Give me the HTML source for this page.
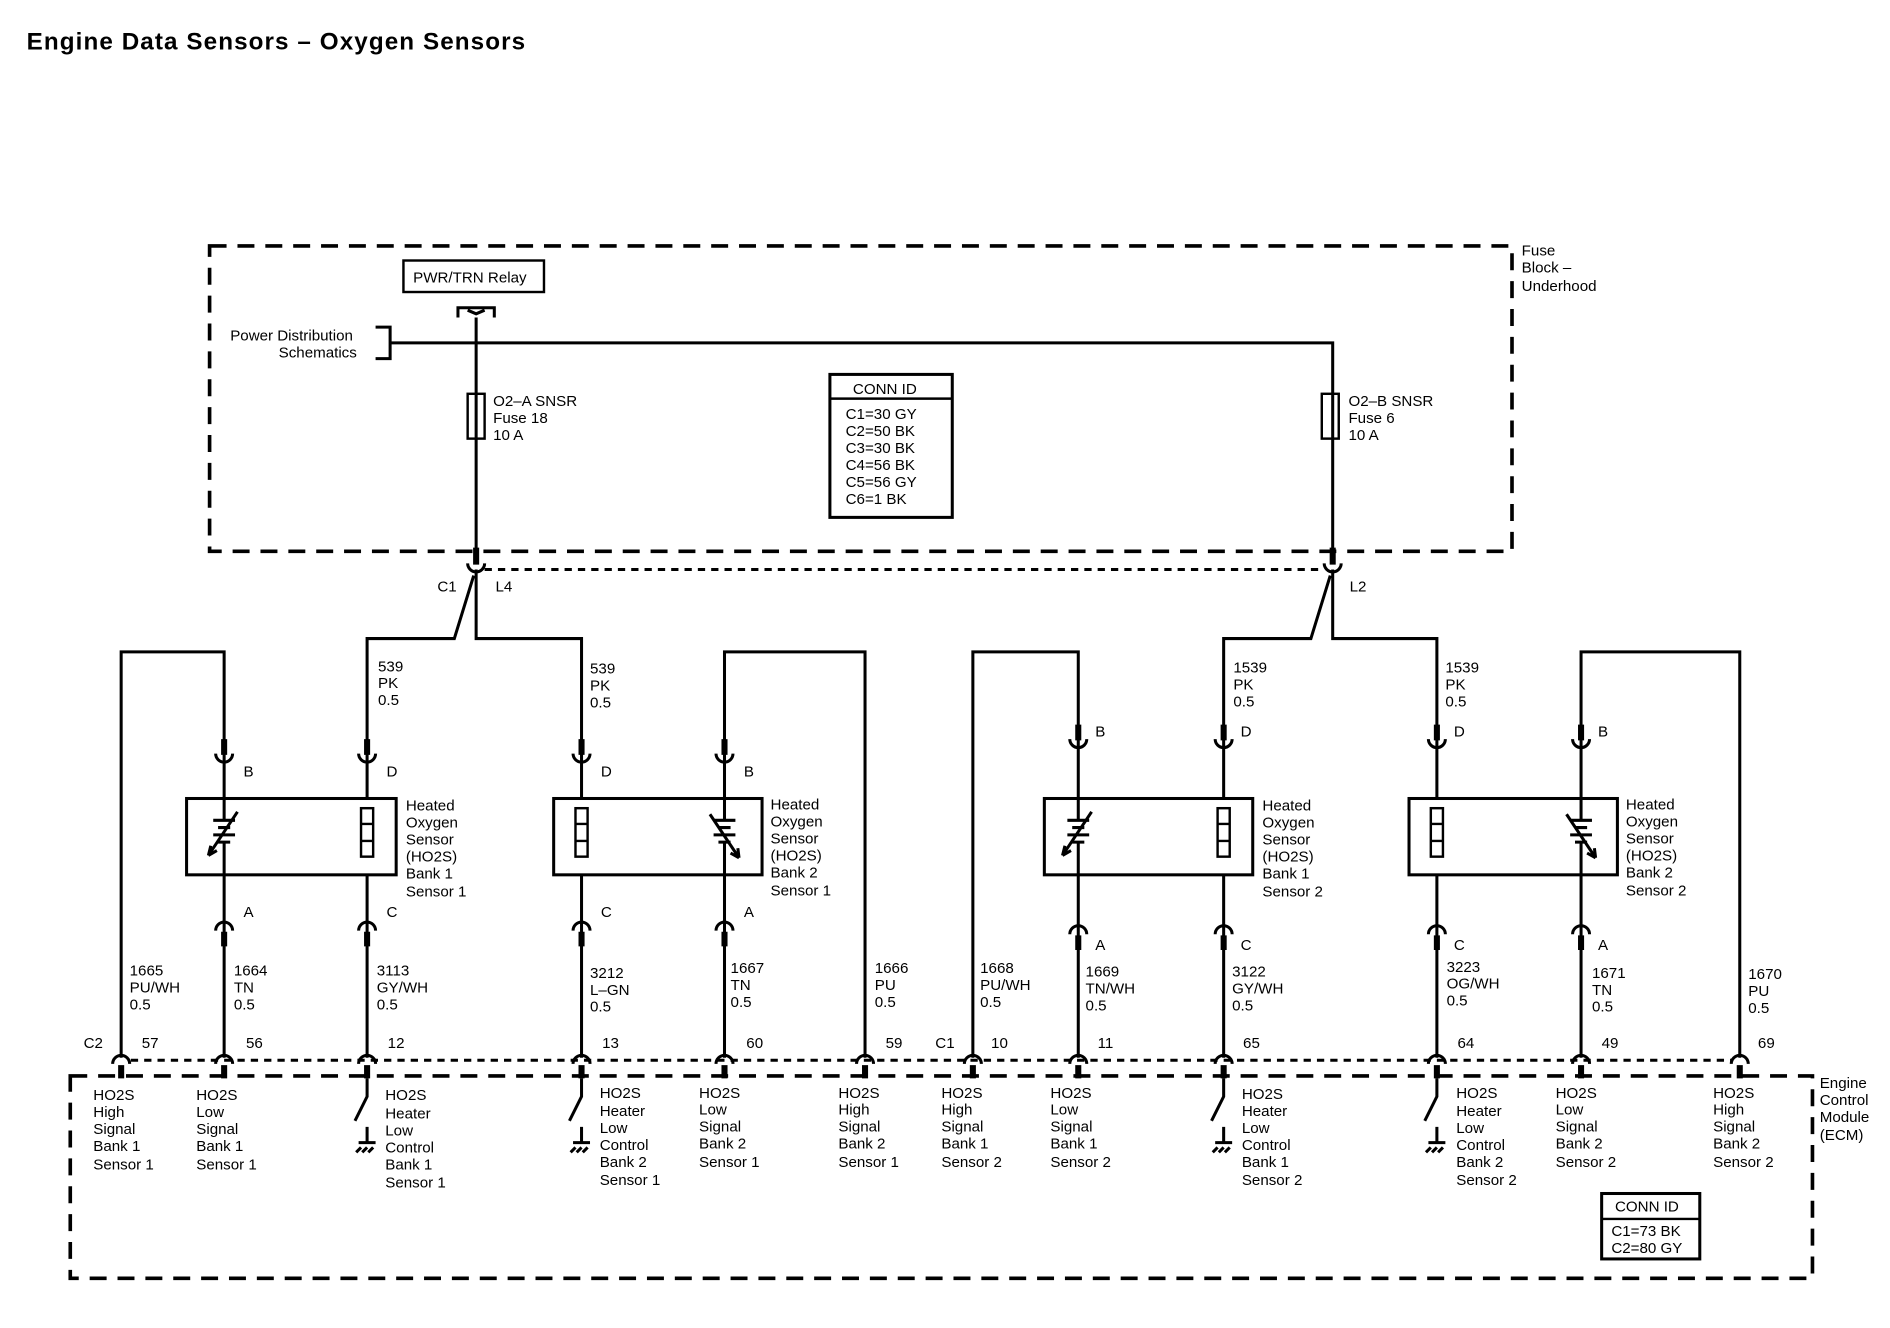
<!DOCTYPE html>
<html><head><meta charset="utf-8"><style>
html,body{margin:0;padding:0;background:#fff;}
svg{display:block;}
text{font-family:"Liberation Sans",Arial,sans-serif;font-size:12.5px;fill:#000;}
</style></head><body>
<svg width="1890" height="1328" viewBox="0 0 1560 1096" preserveAspectRatio="none" xmlns="http://www.w3.org/2000/svg">
<rect width="1560" height="1096" fill="#fff"/>
<text x="22" y="41" style="font-size:20px;font-weight:bold;letter-spacing:0.9px">Engine Data Sensors – Oxygen Sensors</text>
<g fill="none" stroke="#000" stroke-width="3">
<rect x="173" y="203" width="1075" height="252" stroke-dasharray="14,9"/>
<rect x="58" y="888" width="1438" height="167" stroke-dasharray="14,9"/>
</g>
<g fill="none" stroke="#000" stroke-width="2.5">
<rect x="333" y="215" width="116" height="26" stroke-width="2"/>
<path d="M378 262 V254 H408 V262 M386 256 L393 259 L400 256"/>
<path d="M393 262 V465"/>
<path d="M310 270 H322 V296 H310 M322 283 H1100 V465"/>
<rect x="386" y="325" width="14" height="37" stroke-width="2"/>
<rect x="1091" y="325" width="14" height="37" stroke-width="2"/>
<rect x="685" y="309" width="101" height="118" stroke-width="2.5"/>
<path d="M685 329 H786" stroke-width="2"/>
<path d="M400 470 H1092" stroke-dasharray="6,5"/>
<path d="M393 470 V527 H480 V615 M391 475 L375 527 H303 V615"/>
<path d="M1100 470 V527 H1186 V603 M1098 475 L1082 527 H1010 V603"/>
<path d="M100 873 V538 H185 V615 M714 873 V538 H598 V615 M803 873 V538 H890 V603 M1436 873 V538 H1305 V603"/>
<path d="M108 875 H1430" stroke-dasharray="6,5"/>
</g>
<g stroke="#000" stroke-width="5">
<path d="M393 452 V466 M1100 452 V466"/>
</g>
<g fill="none" stroke="#000" stroke-width="2.5">
<path d="M386 465 A7 7 0 0 0 400 465 M1093 465 A7 7 0 0 0 1107 465"/>
</g>
<g fill="none" stroke="#000" stroke-width="2.5">
<rect x="154" y="659" width="173" height="63"/>
<rect x="457" y="659" width="172" height="63"/>
<rect x="862" y="659" width="172" height="63"/>
<rect x="1163" y="659" width="172" height="63"/>
</g>
<g fill="none" stroke="#000" stroke-width="2.5">
<path d="M185 615 V659 M303 615 V659 M480 615 V659 M598 615 V659"/>
<path d="M890 603 V659 M1010 603 V659 M1186 603 V659 M1305 603 V659"/>
<path d="M178 622 A7 7 0 0 0 192 622 M296 622 A7 7 0 0 0 310 622 M473 622 A7 7 0 0 0 487 622 M591 622 A7 7 0 0 0 605 622"/>
<path d="M883 610 A7 7 0 0 0 897 610 M1003 610 A7 7 0 0 0 1017 610 M1179 610 A7 7 0 0 0 1193 610 M1298 610 A7 7 0 0 0 1312 610"/>
<path d="M185 722 V873 M303 722 V873 M480 722 V873 M598 722 V873 M890 722 V873 M1010 722 V873 M1186 722 V873 M1305 722 V873"/>
<path d="M178 768 A7 7 0 0 1 192 768 M296 768 A7 7 0 0 1 310 768 M473 768 A7 7 0 0 1 487 768 M591 768 A7 7 0 0 1 605 768"/>
<path d="M883 771 A7 7 0 0 1 897 771 M1003 771 A7 7 0 0 1 1017 771 M1179 771 A7 7 0 0 1 1193 771 M1298 771 A7 7 0 0 1 1312 771"/>
<path d="M93 878 A7 7 0 0 1 107 878 M178 878 A7 7 0 0 1 192 878 M296 878 A7 7 0 0 1 310 878 M473 878 A7 7 0 0 1 487 878 M591 878 A7 7 0 0 1 605 878 M707 878 A7 7 0 0 1 721 878 M796 878 A7 7 0 0 1 810 878 M883 878 A7 7 0 0 1 897 878 M1003 878 A7 7 0 0 1 1017 878 M1179 878 A7 7 0 0 1 1193 878 M1298 878 A7 7 0 0 1 1312 878 M1429 878 A7 7 0 0 1 1443 878"/>
<path d="M303 890 V905 L293 925 M303 930 V943 M296 943 H310 M298 947 L294 951 M303 947 L299 951 M308 947 L304 951"/>
<path d="M480 890 V905 L470 925 M480 930 V943 M473 943 H487 M475 947 L471 951 M480 947 L476 951 M485 947 L481 951"/>
<path d="M1010 890 V905 L1000 925 M1010 930 V943 M1003 943 H1017 M1005 947 L1001 951 M1010 947 L1006 951 M1015 947 L1011 951"/>
<path d="M1186 890 V905 L1176 925 M1186 930 V943 M1179 943 H1193 M1181 947 L1177 951 M1186 947 L1182 951 M1191 947 L1187 951"/>
</g>
<g stroke="#000" stroke-width="5">
<path d="M185 610 V623 M303 610 V623 M480 610 V623 M598 610 V623 M890 598 V611 M1010 598 V611 M1186 598 V611 M1305 598 V611"/>
<path d="M185 769 V781 M303 769 V781 M480 769 V781 M598 769 V781 M890 772 V784 M1010 772 V784 M1186 772 V784 M1305 772 V784"/>
<path d="M100 879 V890 M185 879 V890 M303 879 V890 M480 879 V890 M598 879 V890 M714 879 V890 M803 879 V890 M890 879 V890 M1010 879 V890 M1186 879 V890 M1305 879 V890 M1436 879 V890"/>
</g>
<g fill="#fff" stroke="#000" stroke-width="2">
<rect x="298" y="667" width="10" height="40"/><path d="M298 680 H308 M298 694 H308" fill="none"/>
<rect x="475" y="667" width="10" height="40"/><path d="M475 680 H485 M475 694 H485" fill="none"/>
<rect x="1005" y="667" width="10" height="40"/><path d="M1005 680 H1015 M1005 694 H1015" fill="none"/>
<rect x="1181" y="667" width="10" height="40"/><path d="M1181 680 H1191 M1181 694 H1191" fill="none"/>
</g>
<g fill="none" stroke="#000" stroke-width="2.5">
<path d="M176 677 H194 M180 683 H190 M176 689 H194 M180 695 H190 M185 659 V677 M185 695 V722"/>
<path d="M196 670 L172 706 M172 706 l2 -8 M172 706 l7 -4"/>
<path d="M589 677 H607 M593 683 H603 M589 689 H607 M593 695 H603 M598 659 V677 M598 695 V722"/>
<path d="M586 672 L610 708 M610 708 l-1 -8 M610 708 l-7 -4"/>
<path d="M881 677 H899 M885 683 H895 M881 689 H899 M885 695 H895 M890 659 V677 M890 695 V722"/>
<path d="M901 670 L877 706 M877 706 l2 -8 M877 706 l7 -4"/>
<path d="M1296 677 H1314 M1300 683 H1310 M1296 689 H1314 M1300 695 H1310 M1305 659 V677 M1305 695 V722"/>
<path d="M1293 672 L1317 708 M1317 708 l-1 -8 M1317 708 l-7 -4"/>
</g>
<rect x="1322" y="985" width="81" height="54" fill="none" stroke="#000" stroke-width="2.5"/>
<path d="M1322 1006 H1403" stroke="#000" stroke-width="2"/>
<g>
<text x="341" y="233">PWR/TRN Relay</text>
<text x="190" y="281">Power Distribution</text>
<text x="230" y="295">Schematics</text>
<text x="1256" y="211">Fuse</text><text x="1256" y="225">Block –</text><text x="1256" y="240">Underhood</text>
<text x="407" y="335">O2–A SNSR</text><text x="407" y="349">Fuse 18</text><text x="407" y="363">10 A</text>
<text x="1113" y="335">O2–B SNSR</text><text x="1113" y="349">Fuse 6</text><text x="1113" y="363">10 A</text>
<text x="704" y="325">CONN ID</text>
<text x="698" y="346">C1=30 GY</text><text x="698" y="360">C2=50 BK</text><text x="698" y="374">C3=30 BK</text><text x="698" y="388">C4=56 BK</text><text x="698" y="402">C5=56 GY</text><text x="698" y="416">C6=1 BK</text>
<text x="361" y="488">C1</text><text x="409" y="488">L4</text><text x="1114" y="488">L2</text>
<text x="312" y="554">539</text><text x="312" y="568">PK</text><text x="312" y="582">0.5</text>
<text x="487" y="556">539</text><text x="487" y="570">PK</text><text x="487" y="584">0.5</text>
<text x="1018" y="555">1539</text><text x="1018" y="569">PK</text><text x="1018" y="583">0.5</text>
<text x="1193" y="555">1539</text><text x="1193" y="569">PK</text><text x="1193" y="583">0.5</text>
<text x="201" y="641">B</text><text x="319" y="641">D</text><text x="496" y="641">D</text><text x="614" y="641">B</text>
<text x="904" y="608">B</text><text x="1024" y="608">D</text><text x="1200" y="608">D</text><text x="1319" y="608">B</text>
<text x="201" y="757">A</text><text x="319" y="757">C</text><text x="496" y="757">C</text><text x="614" y="757">A</text>
<text x="904" y="784">A</text><text x="1024" y="784">C</text><text x="1200" y="784">C</text><text x="1319" y="784">A</text>
<text x="335" y="669">Heated</text><text x="335" y="683">Oxygen</text><text x="335" y="697">Sensor</text><text x="335" y="711">(HO2S)</text><text x="335" y="725">Bank 1</text><text x="335" y="740">Sensor 1</text>
<text x="636" y="668">Heated</text><text x="636" y="682">Oxygen</text><text x="636" y="696">Sensor</text><text x="636" y="710">(HO2S)</text><text x="636" y="724">Bank 2</text><text x="636" y="739">Sensor 1</text>
<text x="1042" y="669">Heated</text><text x="1042" y="683">Oxygen</text><text x="1042" y="697">Sensor</text><text x="1042" y="711">(HO2S)</text><text x="1042" y="725">Bank 1</text><text x="1042" y="740">Sensor 2</text>
<text x="1342" y="668">Heated</text><text x="1342" y="682">Oxygen</text><text x="1342" y="696">Sensor</text><text x="1342" y="710">(HO2S)</text><text x="1342" y="724">Bank 2</text><text x="1342" y="739">Sensor 2</text>
<text x="107" y="805">1665</text><text x="107" y="819">PU/WH</text><text x="107" y="833">0.5</text>
<text x="193" y="805">1664</text><text x="193" y="819">TN</text><text x="193" y="833">0.5</text>
<text x="311" y="805">3113</text><text x="311" y="819">GY/WH</text><text x="311" y="833">0.5</text>
<text x="487" y="807">3212</text><text x="487" y="821">L–GN</text><text x="487" y="835">0.5</text>
<text x="603" y="803">1667</text><text x="603" y="817">TN</text><text x="603" y="831">0.5</text>
<text x="722" y="803">1666</text><text x="722" y="817">PU</text><text x="722" y="831">0.5</text>
<text x="809" y="803">1668</text><text x="809" y="817">PU/WH</text><text x="809" y="831">0.5</text>
<text x="896" y="806">1669</text><text x="896" y="820">TN/WH</text><text x="896" y="834">0.5</text>
<text x="1017" y="806">3122</text><text x="1017" y="820">GY/WH</text><text x="1017" y="834">0.5</text>
<text x="1194" y="802">3223</text><text x="1194" y="816">OG/WH</text><text x="1194" y="830">0.5</text>
<text x="1314" y="807">1671</text><text x="1314" y="821">TN</text><text x="1314" y="835">0.5</text>
<text x="1443" y="808">1670</text><text x="1443" y="822">PU</text><text x="1443" y="836">0.5</text>
<text x="69" y="865">C2</text><text x="117" y="865">57</text><text x="203" y="865">56</text><text x="320" y="865">12</text><text x="497" y="865">13</text><text x="616" y="865">60</text><text x="731" y="865">59</text>
<text x="772" y="865">C1</text><text x="818" y="865">10</text><text x="906" y="865">11</text><text x="1026" y="865">65</text><text x="1203" y="865">64</text><text x="1322" y="865">49</text><text x="1451" y="865">69</text>
<text x="1502" y="898">Engine</text><text x="1502" y="912">Control</text><text x="1502" y="926">Module</text><text x="1502" y="941">(ECM)</text>
<text x="77" y="908">HO2S</text><text x="77" y="922">High</text><text x="77" y="936">Signal</text><text x="77" y="950">Bank 1</text><text x="77" y="965">Sensor 1</text>
<text x="162" y="908">HO2S</text><text x="162" y="922">Low</text><text x="162" y="936">Signal</text><text x="162" y="950">Bank 1</text><text x="162" y="965">Sensor 1</text>
<text x="318" y="908">HO2S</text><text x="318" y="923">Heater</text><text x="318" y="937">Low</text><text x="318" y="951">Control</text><text x="318" y="965">Bank 1</text><text x="318" y="980">Sensor 1</text>
<text x="495" y="906">HO2S</text><text x="495" y="921">Heater</text><text x="495" y="935">Low</text><text x="495" y="949">Control</text><text x="495" y="963">Bank 2</text><text x="495" y="978">Sensor 1</text>
<text x="577" y="906">HO2S</text><text x="577" y="920">Low</text><text x="577" y="934">Signal</text><text x="577" y="948">Bank 2</text><text x="577" y="963">Sensor 1</text>
<text x="692" y="906">HO2S</text><text x="692" y="920">High</text><text x="692" y="934">Signal</text><text x="692" y="948">Bank 2</text><text x="692" y="963">Sensor 1</text>
<text x="777" y="906">HO2S</text><text x="777" y="920">High</text><text x="777" y="934">Signal</text><text x="777" y="948">Bank 1</text><text x="777" y="963">Sensor 2</text>
<text x="867" y="906">HO2S</text><text x="867" y="920">Low</text><text x="867" y="934">Signal</text><text x="867" y="948">Bank 1</text><text x="867" y="963">Sensor 2</text>
<text x="1025" y="907">HO2S</text><text x="1025" y="921">Heater</text><text x="1025" y="935">Low</text><text x="1025" y="949">Control</text><text x="1025" y="963">Bank 1</text><text x="1025" y="978">Sensor 2</text>
<text x="1202" y="906">HO2S</text><text x="1202" y="921">Heater</text><text x="1202" y="935">Low</text><text x="1202" y="949">Control</text><text x="1202" y="963">Bank 2</text><text x="1202" y="978">Sensor 2</text>
<text x="1284" y="906">HO2S</text><text x="1284" y="920">Low</text><text x="1284" y="934">Signal</text><text x="1284" y="948">Bank 2</text><text x="1284" y="963">Sensor 2</text>
<text x="1414" y="906">HO2S</text><text x="1414" y="920">High</text><text x="1414" y="934">Signal</text><text x="1414" y="948">Bank 2</text><text x="1414" y="963">Sensor 2</text>
<text x="1333" y="1000">CONN ID</text>
<text x="1330" y="1020">C1=73 BK</text><text x="1330" y="1034">C2=80 GY</text>
</g>
</svg>
</body></html>
